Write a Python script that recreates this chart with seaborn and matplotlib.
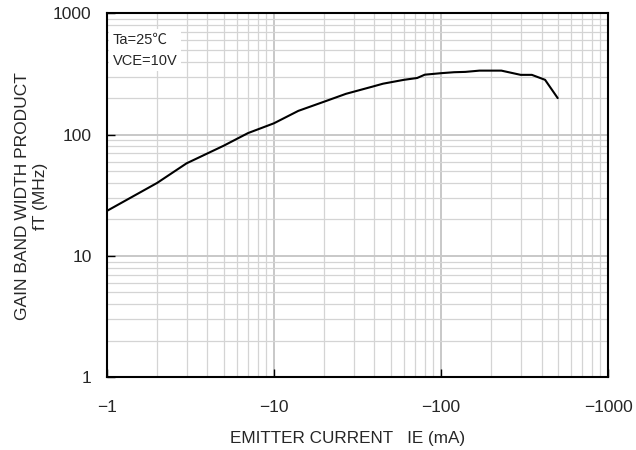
import numpy as np
import pandas as pd
import matplotlib
matplotlib.use("Agg")
import matplotlib.pyplot as plt
import seaborn as sns
from matplotlib.ticker import LogLocator, NullFormatter

# Data (|IE| in mA, fT in MHz)
emitter_current = [1, 2, 3, 5, 7, 10, 14, 20, 27, 39, 45, 60, 72, 80, 100,
                   120, 140, 170, 230, 300, 350, 420, 500]
gain_bandwidth = [23.5, 40, 58, 81, 103, 124, 157, 187, 217, 249, 263, 283, 293,
                  312, 321, 327, 329, 337, 337, 311, 311, 283, 200]
x_ticks = [1, 10, 100, 1000]
x_tick_labels = ["\u22121", "\u221210", "\u2212100", "\u22121000"]
y_ticks = [1, 10, 100, 1000]
y_tick_labels = ["1", "10", "100", "1000"]

sns.set_style("white")
plt.rcParams['font.family'] = ['Liberation Sans', 'Noto Sans CJK JP', 'DejaVu Sans']

df = pd.DataFrame({"IE": emitter_current, "fT": gain_bandwidth})

fig = plt.figure(figsize=(6.36, 4.5), dpi=100)
ax = fig.add_axes([0.168, 0.1616, 0.788, 0.8088])

sns.lineplot(data=df, x="IE", y="fT", ax=ax, color="black", linewidth=1.5, zorder=3)

ax.set_xscale("log")
ax.set_yscale("log")
ax.set_xlim(1, 1000)
ax.set_ylim(1, 1000)

ax.xaxis.set_minor_locator(LogLocator(base=10, subs=np.arange(2, 10)))
ax.yaxis.set_minor_locator(LogLocator(base=10, subs=np.arange(2, 10)))
ax.xaxis.set_minor_formatter(NullFormatter())
ax.yaxis.set_minor_formatter(NullFormatter())
ax.set_xticks(x_ticks)
ax.set_xticklabels(x_tick_labels)
ax.set_yticks(y_ticks)
ax.set_yticklabels(y_tick_labels)

ax.grid(which="major", color="#c8c8c8", linewidth=1.4, zorder=0)
ax.grid(which="minor", color="#d4d4d4", linewidth=0.9, zorder=0)
ax.set_axisbelow(True)

ax.tick_params(which="major", direction="in", length=6, width=1, color="black",
               labelsize=12.5, left=True, bottom=True)
ax.tick_params(axis="y", which="major", pad=11)
ax.tick_params(axis="x", which="major", pad=16)
ax.tick_params(which="minor", length=0)

for s in ax.spines.values():
    s.set_color("black")
    s.set_linewidth(1.5)

ax.set_xlabel("EMITTER CURRENT   IE (mA)", fontsize=12.3, va="top")
ax.xaxis.set_label_coords(0.48, -0.147)
ax.set_ylabel("GAIN BAND WIDTH PRODUCT\nfT (MHz)", fontsize=12.5, linespacing=1.25)
ax.yaxis.set_label_coords(-0.118, 0.497)

ax.text(0.012, 0.947, "Ta=25\u2103\nVCE=10V", transform=ax.transAxes,
        fontsize=10.5, va="top", ha="left", linespacing=1.65,
        bbox=dict(facecolor="white", edgecolor="none", pad=2.5), zorder=4)

fig.savefig("out.png", dpi=100)
